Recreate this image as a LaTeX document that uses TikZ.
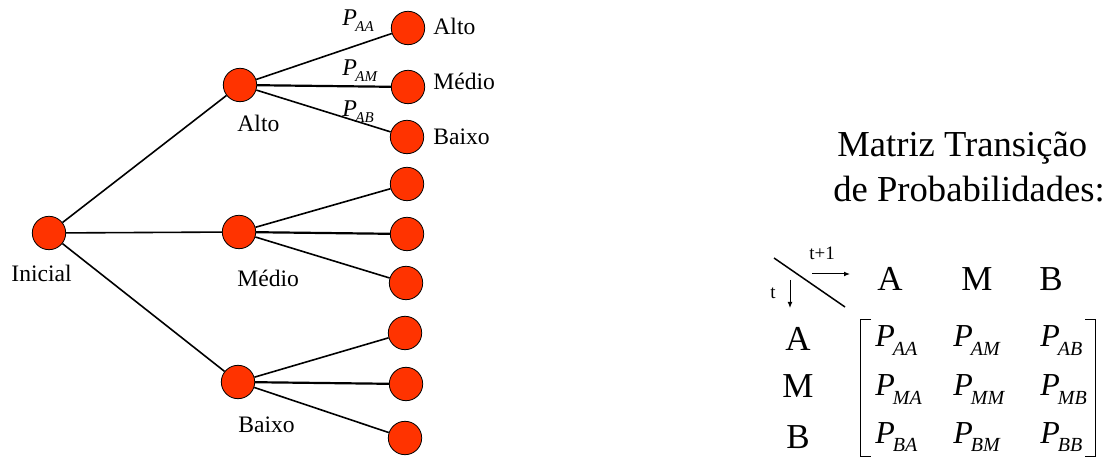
\documentclass[tikz,border=0pt]{standalone}
\usepackage{fontspec}
\setmainfont{Liberation Serif}
\usetikzlibrary{arrows.meta}
\definecolor{laranja}{HTML}{FF3300}

\newcommand{\fsz}[1]{\fontsize{#1}{#1}\selectfont}
\newcommand{\ptree}[1]{\textit{P}\kern-0.8pt\raisebox{-3pt}{\fsz{7.5}\textit{#1}}}
\newcommand{\pmat}[1]{\textit{P}\kern-1pt\raisebox{-4.5pt}{\fsz{10}\textit{#1}}}

\tikzset{
  estado/.style={circle, draw=black, line width=0.4pt, fill=laranja, minimum size=16.7pt, inner sep=0pt},
  rotulo/.style={inner sep=0pt, anchor=base west, font=\fsz{11.8}},
  ramo/.style={line width=0.8pt},
  ramoreto/.style={line width=1.1pt},
  letra/.style={inner sep=0pt, anchor=base, font=\fsz{17.5}},
  entrada/.style={inner sep=0pt, anchor=base west, font=\fsz{16}},
}

\begin{document}
\begin{tikzpicture}[x=0.5pt, y=-0.5pt]
  \useasboundingbox (0,0) rectangle (1106,458);
  % arvore de estados
  \node[estado] (ini) at (49,233) {};
  \node[estado] (alto) at (240,85) {};
  \node[estado] (medio) at (239,232) {};
  \node[estado] (baixo) at (238,382) {};
  \foreach \n/\x/\y in {aa/408/28, am/408/87, ab/407/137, ma/407/184, mm/407/234,
                        mb/406/283, ba/405/333, bm/406/384, bb/405/438}
    \node[estado] (\n) at (\x,\y) {};
  \draw[ramo] (ini) -- (alto);
  \draw[ramo] (ini) -- (medio);
  \draw[ramo] (ini) -- (baixo);
  \draw[ramo] (alto) -- (aa);
  \draw[ramoreto] (alto) -- (am);
  \draw[ramo] (alto) -- (ab);
  \draw[ramo] (medio) -- (ma);
  \draw[ramoreto] (medio) -- (mm);
  \draw[ramo] (medio) -- (mb);
  \draw[ramo] (baixo) -- (ba);
  \draw[ramoreto] (baixo) -- (bm);
  \draw[ramo] (baixo) -- (bb);
  \node[rotulo] (lini) at (11,282) {Inicial};
  \node[rotulo] (lalto) at (237,132) {Alto};
  \node[rotulo] (lmedio) at (237,287) {Médio};
  \node[rotulo] (lbaixo) at (238,432) {Baixo};
  \node[rotulo] (laa) at (433,35) {Alto};
  \node[rotulo] (lam) at (433,90) {Médio};
  \node[rotulo] (lab) at (433,145) {Baixo};
  \node[rotulo, font=\fsz{12}] (paa) at (342,26) {\ptree{AA}};
  \node[rotulo, font=\fsz{12}] (pam) at (342,76) {\ptree{AM}};
  \node[rotulo, font=\fsz{12}] (pab) at (342,117) {\ptree{AB}};
  % matriz de transicao
  \node[rotulo, font=\fsz{18.3}] (tit1) at (837,157) {Matriz Transição};
  \node[rotulo, font=\fsz{18.3}] (tit2) at (833,202) {de Probabilidades:};
  \draw[line width=0.75pt] (774,258) -- (845,307);
  \coordinate (t1a) at (812,274);
  \coordinate (t1b) at (850,274);
  \coordinate (ta) at (790,280);
  \coordinate (tb) at (790,308);
  \draw[line width=0.5pt, -{Latex[length=3pt, width=2.4pt]}] (t1a) -- (t1b);
  \draw[line width=0.5pt, -{Latex[length=3pt, width=2.4pt]}] (ta) -- (tb);
  \node[inner sep=0pt, anchor=base, font=\fsz{9.5}] (lt1) at (822,260) {t+1};
  \node[inner sep=0pt, anchor=base, font=\fsz{9.5}] (lt) at (773,299) {t};
  \node[letra] (ca) at (890,291) {A};
  \node[letra] (cm) at (977,291) {M};
  \node[letra] (cb) at (1051,291) {B};
  \node[letra] (ra) at (798,351) {A};
  \node[letra] (rm) at (798,398) {M};
  \node[letra] (rb) at (798,448) {B};
  \node[entrada] (maa) at (875,347) {\pmat{AA}};
  \node[entrada] (mam) at (953,347) {\pmat{AM}};
  \node[entrada] (mab) at (1040,347) {\pmat{AB}};
  \node[entrada] (mma) at (875,395) {\pmat{MA}};
  \node[entrada] (mmm) at (953,395) {\pmat{MM}};
  \node[entrada] (mmb) at (1040,395) {\pmat{MB}};
  \node[entrada] (mba) at (875,443) {\pmat{BA}};
  \node[entrada] (mbm) at (953,443) {\pmat{BM}};
  \node[entrada] (mbb) at (1040,443) {\pmat{BB}};
  \draw[line width=0.5pt] (871,320) -- (860,320) -- (860,456) -- (871,456);
  \draw[line width=0.5pt] (1085,320) -- (1095,320) -- (1095,456) -- (1085,456);
\end{tikzpicture}
\end{document}
